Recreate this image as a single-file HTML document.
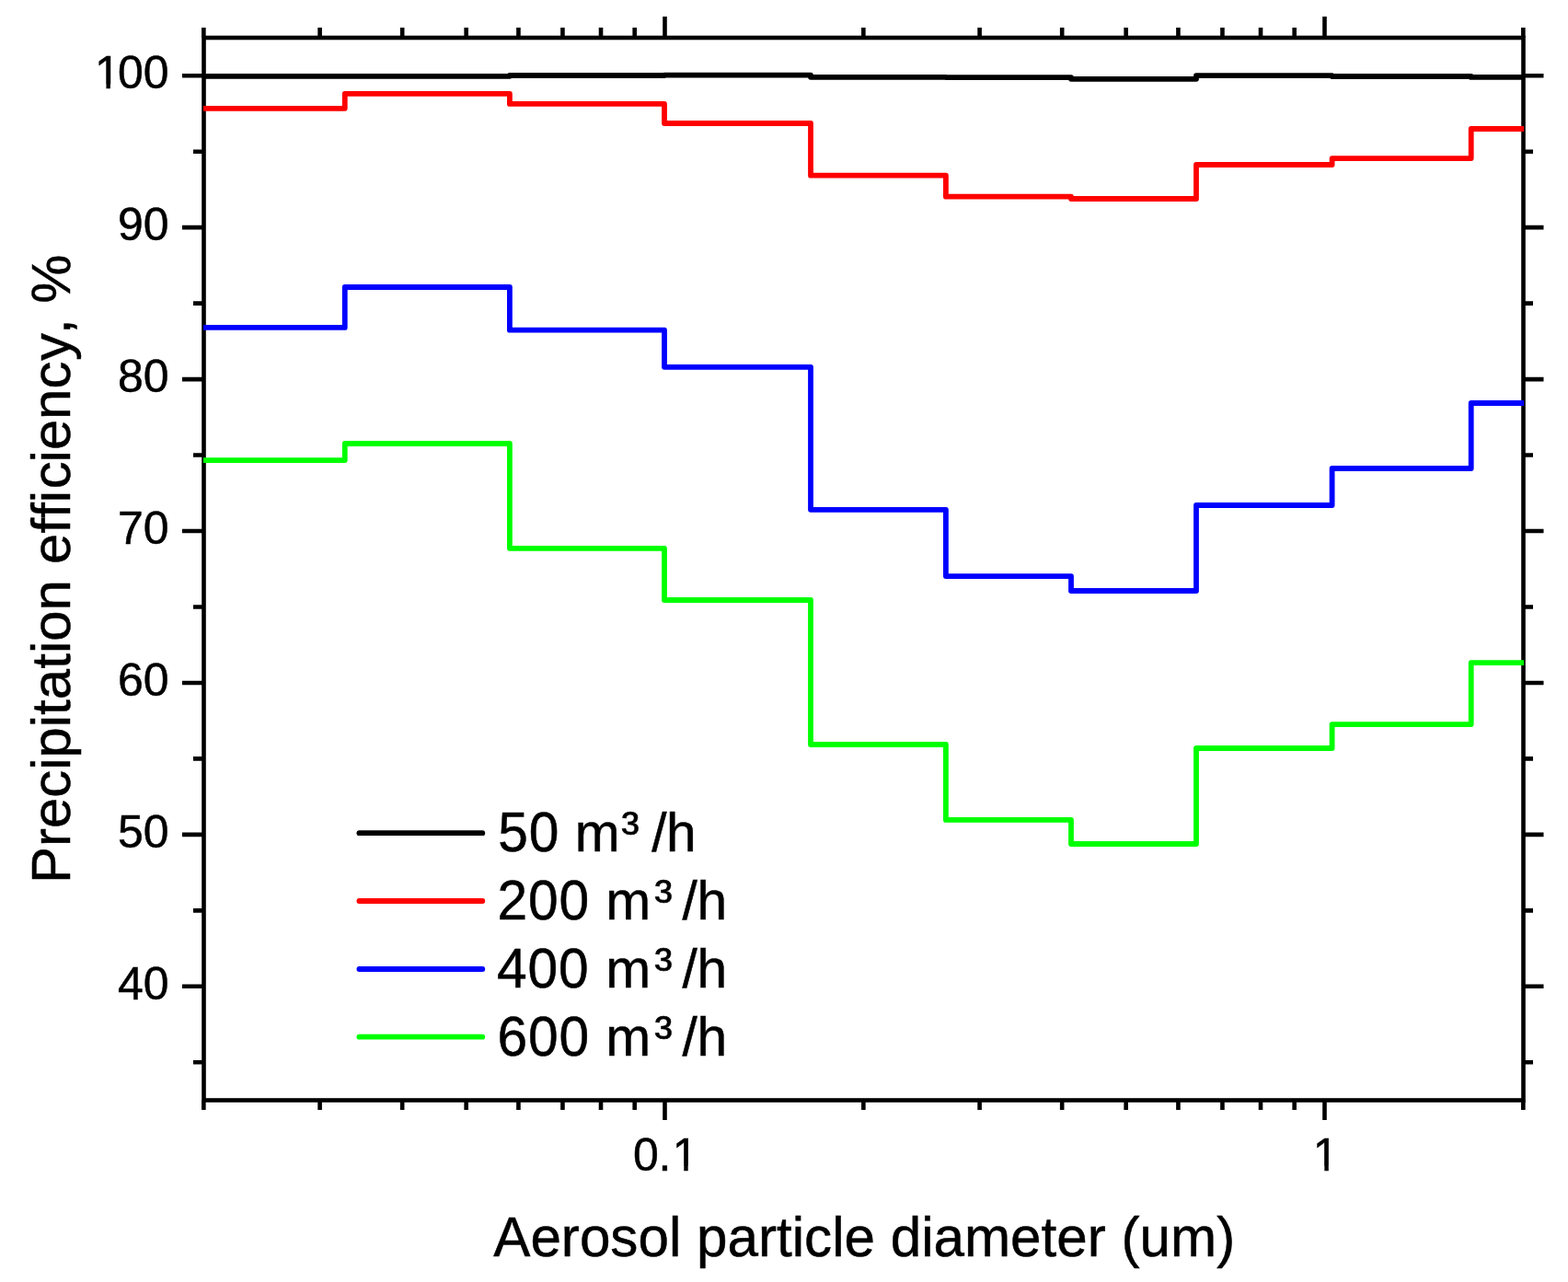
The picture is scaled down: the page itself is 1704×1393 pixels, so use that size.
<!DOCTYPE html>
<html><head><meta charset="utf-8"><title>Precipitation efficiency</title><style>html,body{margin:0;padding:0;background:#fff;}body{width:1704px;height:1393px;overflow:hidden;}svg{display:block;}</style></head>
<body><svg width="1704" height="1393" viewBox="0 0 1704 1393"><defs><clipPath id="c100" clipPathUnits="userSpaceOnUse"><path clip-rule="evenodd" d="M0,-80H1704V30H0Z M105.34,-4.74H115.47V30H105.34Z M119.89,-4.74H129.27V30H119.89Z"/></clipPath><clipPath id="c01" clipPathUnits="userSpaceOnUse"><path clip-rule="evenodd" d="M0,-80H1704V30H0Z M733.14,-4.74H743.27V30H733.14Z M747.69,-4.74H757.07V30H747.69Z"/></clipPath><clipPath id="c1" clipPathUnits="userSpaceOnUse"><path clip-rule="evenodd" d="M0,-80H1704V30H0Z M1429.24,-4.74H1439.37V30H1429.24Z M1443.79,-4.74H1453.17V30H1443.79Z"/></clipPath></defs>
<rect width="1704" height="1393" fill="#fff"/>
<path d="M198,1071.8H221.5M1655.5,1071.8H1677.5M198,906.88H221.5M1655.5,906.88H1677.5M198,741.95H221.5M1655.5,741.95H1677.5M198,577.02H221.5M1655.5,577.02H1677.5M198,412.09H221.5M1655.5,412.09H1677.5M198,247.16H221.5M1655.5,247.16H1677.5M198,82.23H221.5M1655.5,82.23H1677.5M210,1154.27H221.5M1655.5,1154.27H1666M210,989.34H221.5M1655.5,989.34H1666M210,824.41H221.5M1655.5,824.41H1666M210,659.48H221.5M1655.5,659.48H1666M210,494.55H221.5M1655.5,494.55H1666M210,329.62H221.5M1655.5,329.62H1666M210,164.7H221.5M1655.5,164.7H1666M722.5,41.0V18M722.5,1195.5V1217M1439.5,41.0V18M1439.5,1195.5V1217M221.34,41.0V30M221.34,1195.5V1206M347.6,41.0V30M347.6,1195.5V1206M437.18,41.0V30M437.18,1195.5V1206M506.66,41.0V30M506.66,1195.5V1206M563.43,41.0V30M563.43,1195.5V1206M611.44,41.0V30M611.44,1195.5V1206M653.02,41.0V30M653.02,1195.5V1206M689.69,41.0V30M689.69,1195.5V1206M938.34,41.0V30M938.34,1195.5V1206M1064.6,41.0V30M1064.6,1195.5V1206M1154.18,41.0V30M1154.18,1195.5V1206M1223.66,41.0V30M1223.66,1195.5V1206M1280.43,41.0V30M1280.43,1195.5V1206M1328.44,41.0V30M1328.44,1195.5V1206M1370.02,41.0V30M1370.02,1195.5V1206M1406.69,41.0V30M1406.69,1195.5V1206M1655.34,41.0V30M1655.34,1195.5V1206" stroke="#000" stroke-width="4.6" fill="none"/>
<rect x="221.5" y="41.0" width="1434.0" height="1154.5" fill="none" stroke="#000" stroke-width="4.6"/>
<path d="M221.0,82.8H374.75V82.8H553.9V82.0H722.0V81.7H881.0V83.8H1027.9V84.1H1164.0V85.8H1300.0V82.1H1447.6V83.0H1598.7V83.9H1656.0" fill="none" stroke="#000000" stroke-width="5.8" stroke-linejoin="round"/>
<path d="M221.0,117.85H374.75V101.9H553.9V112.9H722.0V134.0H881.0V190.65H1027.9V213.7H1164.0V216.0H1300.0V179.0H1447.6V172.05H1598.7V140.0H1656.0" fill="none" stroke="#ff0000" stroke-width="5.8" stroke-linejoin="round"/>
<path d="M221.0,355.9H374.75V312.0H553.9V358.7H722.0V398.8H881.0V553.8H1027.9V626.1H1164.0V642.0H1300.0V549.0H1447.6V509.0H1598.7V438.0H1656.0" fill="none" stroke="#0000ff" stroke-width="5.8" stroke-linejoin="round"/>
<path d="M221.0,500.1H374.75V482.0H553.9V595.8H722.0V652.0H881.0V809.0H1027.9V890.9H1164.0V917.0H1300.0V813.0H1447.6V787.1H1598.7V720.2H1656.0" fill="none" stroke="#00ff00" stroke-width="5.8" stroke-linejoin="round"/>
<g font-family="Liberation Sans, Arial, sans-serif" fill="#000" stroke="#000" stroke-width="0.5">
<text transform="translate(0,1086) scale(1,1.015)" x="183.5" font-size="50" text-anchor="end">40</text>
<text transform="translate(0,921.08) scale(1,1.015)" x="183.5" font-size="50" text-anchor="end">50</text>
<text transform="translate(0,756.15) scale(1,1.015)" x="183.5" font-size="50" text-anchor="end">60</text>
<text transform="translate(0,591.22) scale(1,1.015)" x="183.5" font-size="50" text-anchor="end">70</text>
<text transform="translate(0,426.29) scale(1,1.015)" x="183.5" font-size="50" text-anchor="end">80</text>
<text transform="translate(0,261.36) scale(1,1.015)" x="183.5" font-size="50" text-anchor="end">90</text>
<text transform="translate(0,96.23) scale(1,1.015)" x="102.9 128 155.7" font-size="50" clip-path="url(#c100)">100</text>
<text transform="translate(0,1271.8) scale(1,1.015)" x="688.05 715.4 730.7" font-size="50" clip-path="url(#c01)">0.1</text>
<text transform="translate(0,1271.8) scale(1,1.015)" x="1426.8" font-size="50" clip-path="url(#c1)">1</text>
<text transform="translate(0,1365.2)" x="536.28" font-size="60.18">Aerosol particle diameter (um)</text>
<text transform="translate(76.1,959.91) rotate(-90)" x="0 39.92 59.85 93.14 123.06 136.36 169.64 182.94 199.57 233.25 249.88 263.18 296.46 330.05 346.98 380.46 397.09 413.72 428.62 457.54 471.04 503.93 537.41 567.84 596.86 613.49 630.27" font-size="59.85">Precipitation efficiency, %</text>
<path d="M390.4,905.2H524.3" stroke="#000000" stroke-width="5.8" stroke-linecap="round"/>
<text transform="translate(0,924.7) scale(1,1.04)" x="541.15 574.65" font-size="58.67">50</text>
<text transform="translate(0,924.7)" x="624.85 675.33 694.86 708.3 723.93" y="0 -2 0 0 0" font-size="58.67">m³ /h</text>
<path d="M390.4,979.0H524.3" stroke="#ff0000" stroke-width="5.8" stroke-linecap="round"/>
<text transform="translate(0,998.6) scale(1,1.04)" x="540.55 574.05 607.55" font-size="58.67">200</text>
<text transform="translate(0,998.6)" x="658.15 711.13 730.66 741.5 757.43" y="0 -2 0 0 0" font-size="58.67">m³ /h</text>
<path d="M390.4,1053.0H524.3" stroke="#0000ff" stroke-width="5.8" stroke-linecap="round"/>
<text transform="translate(0,1072.6) scale(1,1.04)" x="540.05 573.55 607.05" font-size="58.67">400</text>
<text transform="translate(0,1072.6)" x="658.15 711.13 730.66 741.5 757.43" y="0 -2 0 0 0" font-size="58.67">m³ /h</text>
<path d="M390.4,1126.7H524.3" stroke="#00ff00" stroke-width="5.8" stroke-linecap="round"/>
<text transform="translate(0,1146.5) scale(1,1.04)" x="540.52 574.02 607.52" font-size="58.67">600</text>
<text transform="translate(0,1146.5)" x="658.15 711.13 730.66 741.5 757.43" y="0 -2 0 0 0" font-size="58.67">m³ /h</text>
</g>
</svg></body></html>
